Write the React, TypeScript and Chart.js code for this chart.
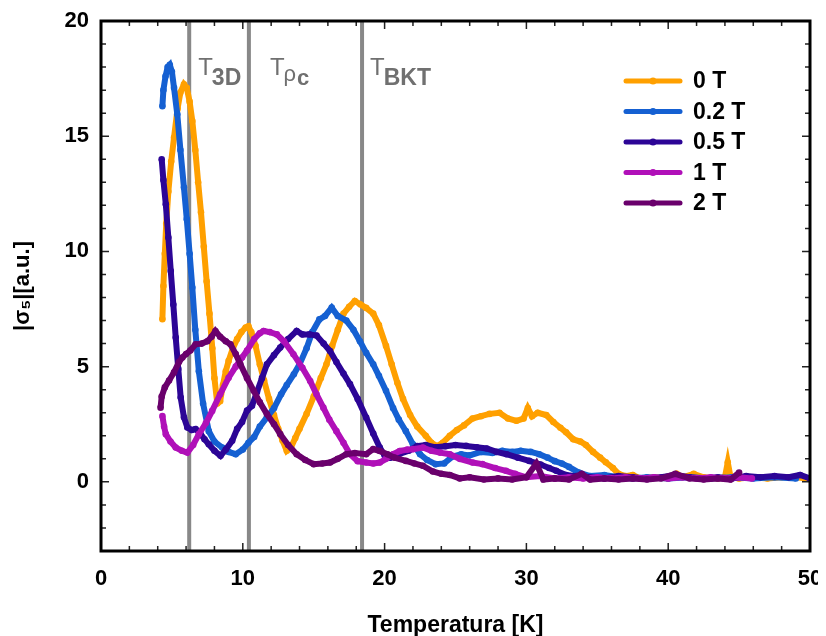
import React, { useEffect, useRef } from "react";
import { Chart, registerables } from "chart.js";

Chart.register(...registerables);

// ---- Data ----
const seriesLabels = ["0 T", "0.2 T", "0.5 T", "1 T", "2 T"];
const seriesColors = ["#FFA000", "#1560D2", "#2C0596", "#B010B8", "#6A006C"];

const temp0T = [4.33, 4.4, 4.5, 4.6, 4.75, 4.95, 5.15, 5.4, 5.6, 5.85, 6.05, 6.25, 6.44, 6.65, 6.85, 7.05, 7.25, 7.45, 7.65, 7.85, 8.0, 8.2, 8.4, 8.6, 8.8, 9.0, 9.3, 9.6, 9.9, 10.2, 10.4, 10.6, 10.9, 11.2, 11.5, 11.85, 12.2, 12.5, 12.8, 13.1, 13.4, 13.7, 14.0, 14.5, 15.0, 15.5, 15.9, 16.3, 16.7, 17.1, 17.5, 17.9, 18.3, 18.7, 19.2, 19.6, 20.1, 20.5, 20.9, 21.3, 21.8, 22.3, 22.9, 23.3, 23.7, 24.1, 24.6, 25.1, 25.6, 26.2, 26.8, 27.4, 28.1, 28.7, 29.3, 29.8, 30.1, 30.4, 30.8, 31.4, 31.9, 32.4, 32.8, 33.3, 33.8, 34.2, 34.7, 35.2, 35.6, 36.1, 36.5, 37.0, 37.5, 38.0, 39.0, 40.0, 40.6, 41.0, 41.8, 42.5, 43.5, 44.0, 44.2, 44.4, 45.0, 46.0, 47.0, 48.0, 49.0, 49.8];
const sigma0T = [7.06, 8.5, 9.9, 11.2, 12.6, 13.9, 14.94, 16.2, 16.9, 17.25, 17.1, 16.5, 15.66, 14.4, 13.0, 11.7, 10.2, 8.7, 7.3, 5.8, 4.5, 3.4, 3.5, 4.2, 4.8, 5.25, 5.8, 6.2, 6.5, 6.7, 6.75, 6.5, 5.9, 5.1, 4.4, 3.6, 2.9, 2.3, 1.8, 1.35, 1.5, 1.9, 2.3, 2.95, 3.7, 4.5, 5.1, 5.9, 6.6, 7.3, 7.6, 7.85, 7.7, 7.55, 7.3, 6.8, 5.9, 5.1, 4.3, 3.6, 2.9, 2.4, 2.0, 1.7, 1.55, 1.7, 2.0, 2.25, 2.45, 2.75, 2.85, 2.95, 3.0, 2.75, 2.65, 2.75, 3.2, 2.85, 3.0, 2.9, 2.6, 2.35, 2.15, 1.85, 1.75, 1.6, 1.3, 1.05, 0.85, 0.6, 0.35, 0.25, 0.3, 0.15, 0.2, 0.15, 0.35, 0.2, 0.35, 0.2, 0.15, 0.2, 0.85, 0.2, 0.15, 0.2, 0.15, 0.2, 0.2, 0.15];

const temp02T = [4.33, 4.4, 4.55, 4.7, 4.85, 5.0, 5.15, 5.38, 5.6, 5.85, 6.05, 6.25, 6.44, 6.65, 6.9, 7.2, 7.6, 8.0, 8.55, 9.0, 9.5, 10.0, 10.4, 10.8, 11.2, 11.7, 12.2, 12.7, 13.1, 13.6, 14.0, 14.5, 14.9, 15.4, 15.8, 16.27, 16.7, 17.3, 17.8, 18.26, 18.7, 19.2, 19.6, 20.1, 20.6, 21.0, 21.5, 22.0, 22.5, 23.0, 23.6, 24.2, 24.8, 25.4, 26.0, 26.8, 27.6, 28.3, 29.0, 29.6, 30.3, 30.9, 31.5, 32.0, 32.5, 33.0, 33.7, 34.5, 35.5, 36.5, 37.5, 38.5, 40.0, 41.5, 43.0, 44.5, 46.0, 47.5, 49.0];
const sigma02T = [16.3, 17.0, 17.6, 18.0, 18.1, 17.8, 17.1, 15.95, 14.4, 12.77, 11.4, 9.9, 8.43, 6.6, 4.8, 3.4, 2.2, 1.75, 1.49, 1.3, 1.2, 1.4, 1.7, 1.95, 2.4, 2.8, 3.2, 3.8, 4.2, 4.67, 5.1, 5.8, 6.5, 7.05, 7.2, 7.56, 7.2, 7.0, 6.6, 6.1, 5.6, 5.1, 4.6, 3.95, 3.2, 2.7, 2.2, 1.63, 1.2, 0.95, 0.77, 0.8, 1.1, 1.2, 1.15, 1.3, 1.25, 1.35, 1.3, 1.35, 1.3, 1.2, 1.05, 0.9, 0.8, 0.65, 0.4, 0.25, 0.3, 0.2, 0.15, 0.2, 0.15, 0.2, 0.15, 0.2, 0.15, 0.2, 0.15];

const temp05T = [4.28, 4.4, 4.57, 4.75, 4.92, 5.1, 5.27, 5.45, 5.62, 5.85, 6.09, 6.4, 6.67, 7.0, 7.3, 7.6, 8.0, 8.43, 8.8, 9.25, 9.6, 9.95, 10.3, 10.65, 11.0, 11.35, 11.7, 12.2, 12.64, 13.2, 13.8, 14.2, 14.7, 15.2, 15.7, 16.15, 16.6, 17.1, 17.56, 18.1, 18.7, 19.2, 19.66, 20.0, 20.4, 21.0, 21.7, 22.3, 22.9, 23.6, 24.3, 25.0, 25.75, 26.5, 27.2, 27.9, 28.6, 29.4, 30.2, 31.0, 31.6, 32.1, 32.8, 33.5, 34.5, 35.5, 36.5, 37.5, 38.5, 39.5, 40.5, 41.5, 42.5, 43.5, 44.5, 45.5, 46.5, 47.5, 48.5, 49.3, 50.0];
const sigma05T = [14.0, 13.1, 12.05, 10.6, 9.15, 7.7, 6.26, 4.9, 3.66, 2.8, 2.36, 2.25, 2.29, 2.1, 1.85, 1.63, 1.35, 1.13, 1.4, 1.78, 2.3, 2.6, 3.1, 3.3, 3.9, 4.5, 5.1, 5.5, 5.83, 6.2, 6.55, 6.4, 6.4, 6.35, 6.0, 5.68, 5.2, 4.7, 4.24, 3.6, 2.79, 2.1, 1.49, 1.15, 1.05, 1.2, 1.35, 1.55, 1.6, 1.5, 1.55, 1.6, 1.56, 1.5, 1.45, 1.3, 1.2, 1.05, 0.91, 0.75, 0.6, 0.48, 0.3, 0.25, 0.2, 0.15, 0.25, 0.2, 0.15, 0.2, 0.3, 0.2, 0.15, 0.2, 0.15, 0.25, 0.2, 0.25, 0.2, 0.3, 0.15];

const temp1T = [4.33, 4.45, 4.57, 4.9, 5.27, 5.7, 6.09, 6.5, 6.9, 7.4, 7.84, 8.4, 9.0, 9.5, 9.95, 10.3, 10.8, 11.2, 11.47, 11.9, 12.4, 12.9, 13.57, 14.2, 14.75, 15.2, 15.68, 16.1, 16.6, 17.1, 17.56, 18.1, 18.7, 19.2, 19.66, 20.1, 20.6, 21.07, 21.6, 22.0, 22.7, 23.3, 23.9, 24.6, 25.3, 26.2, 26.9, 27.8, 28.56, 29.2, 30.0, 31.0, 32.0, 33.0, 34.0, 35.0, 36.0, 37.0, 38.0, 39.0, 40.0, 41.0, 42.0, 43.0, 44.0, 45.0, 45.9];
const sigma1T = [2.86, 2.4, 2.07, 1.75, 1.49, 1.35, 1.27, 1.6, 2.07, 2.55, 3.08, 3.8, 4.52, 5.0, 5.4, 5.7, 6.2, 6.45, 6.55, 6.5, 6.4, 6.1, 5.54, 4.95, 4.38, 3.8, 3.22, 2.7, 2.2, 1.7, 1.2, 0.9, 0.84, 0.8, 0.84, 1.0, 1.2, 1.34, 1.4, 1.42, 1.49, 1.35, 1.27, 1.2, 1.0, 0.84, 0.77, 0.6, 0.48, 0.35, 0.2, 0.25, 0.15, 0.2, 0.15, 0.2, 0.15, 0.2, 0.15, 0.2, 0.15, 0.2, 0.15, 0.2, 0.15, 0.2, 0.15];

const temp2T = [4.2, 4.28, 4.5, 4.8, 5.15, 5.5, 5.74, 6.0, 6.3, 6.67, 7.1, 7.5, 7.8, 8.07, 8.4, 8.8, 9.13, 9.5, 9.83, 10.3, 10.77, 11.2, 11.7, 12.2, 12.64, 13.2, 13.8, 14.4, 15.0, 15.6, 16.15, 16.7, 17.3, 17.9, 18.7, 19.2, 19.66, 20.2, 20.7, 21.5, 22.1, 22.7, 23.4, 24.0, 24.6, 25.3, 26.0, 27.0, 28.0, 29.0, 30.0, 30.7, 31.2, 32.0, 33.0, 33.9, 34.5, 35.5, 36.5, 37.5, 38.5, 39.5, 40.5, 41.5, 42.5, 43.5, 44.4, 45.0];
const sigma2T = [3.22, 3.7, 4.1, 4.4, 4.75, 5.2, 5.4, 5.55, 5.7, 5.97, 6.0, 6.1, 6.3, 6.55, 6.3, 6.1, 5.97, 5.55, 5.1, 4.5, 3.95, 3.45, 2.94, 2.5, 2.07, 1.6, 1.2, 0.95, 0.77, 0.8, 0.84, 1.0, 1.2, 1.25, 1.2, 1.42, 1.34, 1.2, 1.05, 0.91, 0.8, 0.7, 0.45, 0.35, 0.3, 0.15, 0.2, 0.1, 0.15, 0.1, 0.2, 0.8, 0.1, 0.15, 0.1, 0.35, 0.1, 0.15, 0.1, 0.15, 0.1, 0.15, 0.35, 0.15, 0.1, 0.15, 0.1, 0.4];

const seriesTemps = [temp0T, temp02T, temp05T, temp1T, temp2T];
const seriesSigmas = [sigma0T, sigma02T, sigma05T, sigma1T, sigma2T];

const xTickValues = [0, 10, 20, 30, 40, 50];
const yTickValues = [0, 5, 10, 15, 20];

// Characteristic temperatures (vertical markers)
const markerTemps = [6.22, 10.43, 18.41];
const markerMain = ["T", "T", "T"];
const markerSubs = [["3D"], ["ρ", "c"], ["BKT"]];

const FONT = "'Liberation Sans', Arial, Helvetica, sans-serif";

// canvas starts at the viewport's top-left corner; coordinates below are page coordinates
const framePlugin = {
  id: "framePlugin",
  beforeDatasetsDraw(chart: any) {
    const { ctx, chartArea: a, scales } = chart;
    const x = scales.x;
    ctx.save();
    ctx.strokeStyle = "#888888";
    ctx.lineWidth = 4;
    markerTemps.forEach((t) => {
      const px = x.getPixelForValue(t);
      ctx.beginPath();
      ctx.moveTo(px, a.top);
      ctx.lineTo(px, a.bottom);
      ctx.stroke();
    });
    ctx.restore();
  },
  afterDatasetsDraw(chart: any) {
    const { ctx, chartArea: a, scales } = chart;
    const x = scales.x;
    const y = scales.y;
    ctx.save();
    // tick marks (inward, all four sides)
    ctx.strokeStyle = "#222";
    ctx.lineWidth = 1.5;
    for (let v = 0; v <= 50; v += 2) {
      const px = x.getPixelForValue(v);
      const len = v % 10 === 0 ? 8 : 5;
      ctx.beginPath();
      ctx.moveTo(px, a.bottom);
      ctx.lineTo(px, a.bottom - len);
      ctx.moveTo(px, a.top);
      ctx.lineTo(px, a.top + len);
      ctx.stroke();
    }
    for (let v = -3; v <= 20; v += 1) {
      const py = y.getPixelForValue(v);
      const len = v % 5 === 0 ? 8 : 5;
      ctx.beginPath();
      ctx.moveTo(a.left, py);
      ctx.lineTo(a.left + len, py);
      ctx.moveTo(a.right, py);
      ctx.lineTo(a.right - len, py);
      ctx.stroke();
    }
    // frame
    ctx.strokeStyle = "#000";
    ctx.lineWidth = 3;
    ctx.strokeRect(a.left, a.top, a.right - a.left, a.bottom - a.top);

    // marker labels
    ctx.fillStyle = "#707070";
    ctx.textBaseline = "alphabetic";
    ctx.textAlign = "left";
    const offs = [9, 21, 8];
    markerTemps.forEach((t, i) => {
      let px = x.getPixelForValue(t) + offs[i];
      ctx.font = `normal 24px ${FONT}`;
      ctx.fillText(markerMain[i], px, a.top + 54);
      px += ctx.measureText(markerMain[i]).width - 1;
      const subs = markerSubs[i];
      if (subs.length === 1) {
        ctx.font = `bold 23px ${FONT}`;
        ctx.fillText(subs[0], px, a.top + 64);
      } else {
        ctx.font = `normal 22px ${FONT}`;
        ctx.fillText(subs[0], px, a.top + 60);
        px += ctx.measureText(subs[0]).width + 1;
        ctx.font = `bold 22px ${FONT}`;
        ctx.fillText(subs[1], px, a.top + 64);
      }
    });

    // legend
    seriesLabels.forEach((lab, i) => {
      const cy = a.top + 60 + i * 30.5;
      ctx.strokeStyle = seriesColors[i];
      ctx.lineWidth = 5;
      ctx.lineCap = "round";
      ctx.beginPath();
      ctx.moveTo(626, cy);
      ctx.lineTo(680, cy);
      ctx.stroke();
      ctx.fillStyle = seriesColors[i];
      ctx.beginPath();
      ctx.arc(653, cy, 3.5, 0, Math.PI * 2);
      ctx.fill();
      ctx.fillStyle = "#000";
      ctx.font = `bold 23px ${FONT}`;
      ctx.textBaseline = "middle";
      ctx.fillText(lab, 693, cy + 1);
    });
    ctx.restore();
  },
};

const zeroPad = (s: any) => {
  s.paddingTop = 0;
  s.paddingBottom = 0;
  s.paddingLeft = 0;
  s.paddingRight = 0;
};

export default function App() {
  const canvasRef = useRef<HTMLCanvasElement | null>(null);

  useEffect(() => {
    if (!canvasRef.current) return;
    const datasets = seriesLabels.map((label, i) => ({
      label,
      data: seriesTemps[i].map((t, k) => ({ x: t, y: seriesSigmas[i][k] })),
      borderColor: seriesColors[i],
      backgroundColor: seriesColors[i],
      pointBackgroundColor: seriesColors[i],
      pointBorderWidth: 0,
      pointRadius: 3.3,
      borderWidth: 6,
      showLine: true,
      tension: 0,
      order: seriesLabels.length - 1 - i,
    }));
    const chart = new Chart(canvasRef.current, {
      type: "scatter",
      data: { datasets },
      plugins: [framePlugin],
      options: {
        animation: false,
        responsive: true,
        maintainAspectRatio: false,
        layout: { padding: { top: 21, right: 8, left: 8, bottom: 0 } },
        plugins: { legend: { display: false }, tooltip: { enabled: false } },
        scales: {
          x: {
            type: "linear",
            min: 0,
            max: 50,
            afterBuildTicks: (s: any) => {
              s.ticks = xTickValues.map((v) => ({ value: v }));
            },
            afterFit: (s: any) => {
              s.height = 85;
              zeroPad(s);
            },
            grid: { display: false, drawTicks: false, tickLength: 0 },
            border: { display: false },
            ticks: {
              padding: 15,
              color: "#000",
              font: { family: FONT, size: 22, weight: "bold" },
              maxRotation: 0,
            },
            title: {
              display: true,
              text: "Temperatura [K]",
              color: "#000",
              font: { family: FONT, size: 23, weight: "bold" },
              padding: { top: 0, bottom: -3 },
            },
          },
          y: {
            type: "linear",
            min: -3,
            max: 20,
            afterBuildTicks: (s: any) => {
              s.ticks = yTickValues.map((v) => ({ value: v }));
            },
            afterFit: (s: any) => {
              s.width = 93;
              zeroPad(s);
            },
            grid: { display: false, drawTicks: false, tickLength: 0 },
            border: { display: false },
            ticks: {
              padding: 12,
              color: "#000",
              font: { family: FONT, size: 22, weight: "bold" },
            },
            title: {
              display: true,
              text: "|σ₅|[a.u.]",
              color: "#000",
              font: { family: FONT, size: 22, weight: "bold" },
              padding: { top: 2, bottom: 0 },
            },
          },
        },
      },
    } as any);
    return () => chart.destroy();
  }, []);

  return (
    <div style={{ position: "absolute", left: 0, top: 0, width: 818, height: 636 }}>
      <canvas ref={canvasRef} />
    </div>
  );
}
